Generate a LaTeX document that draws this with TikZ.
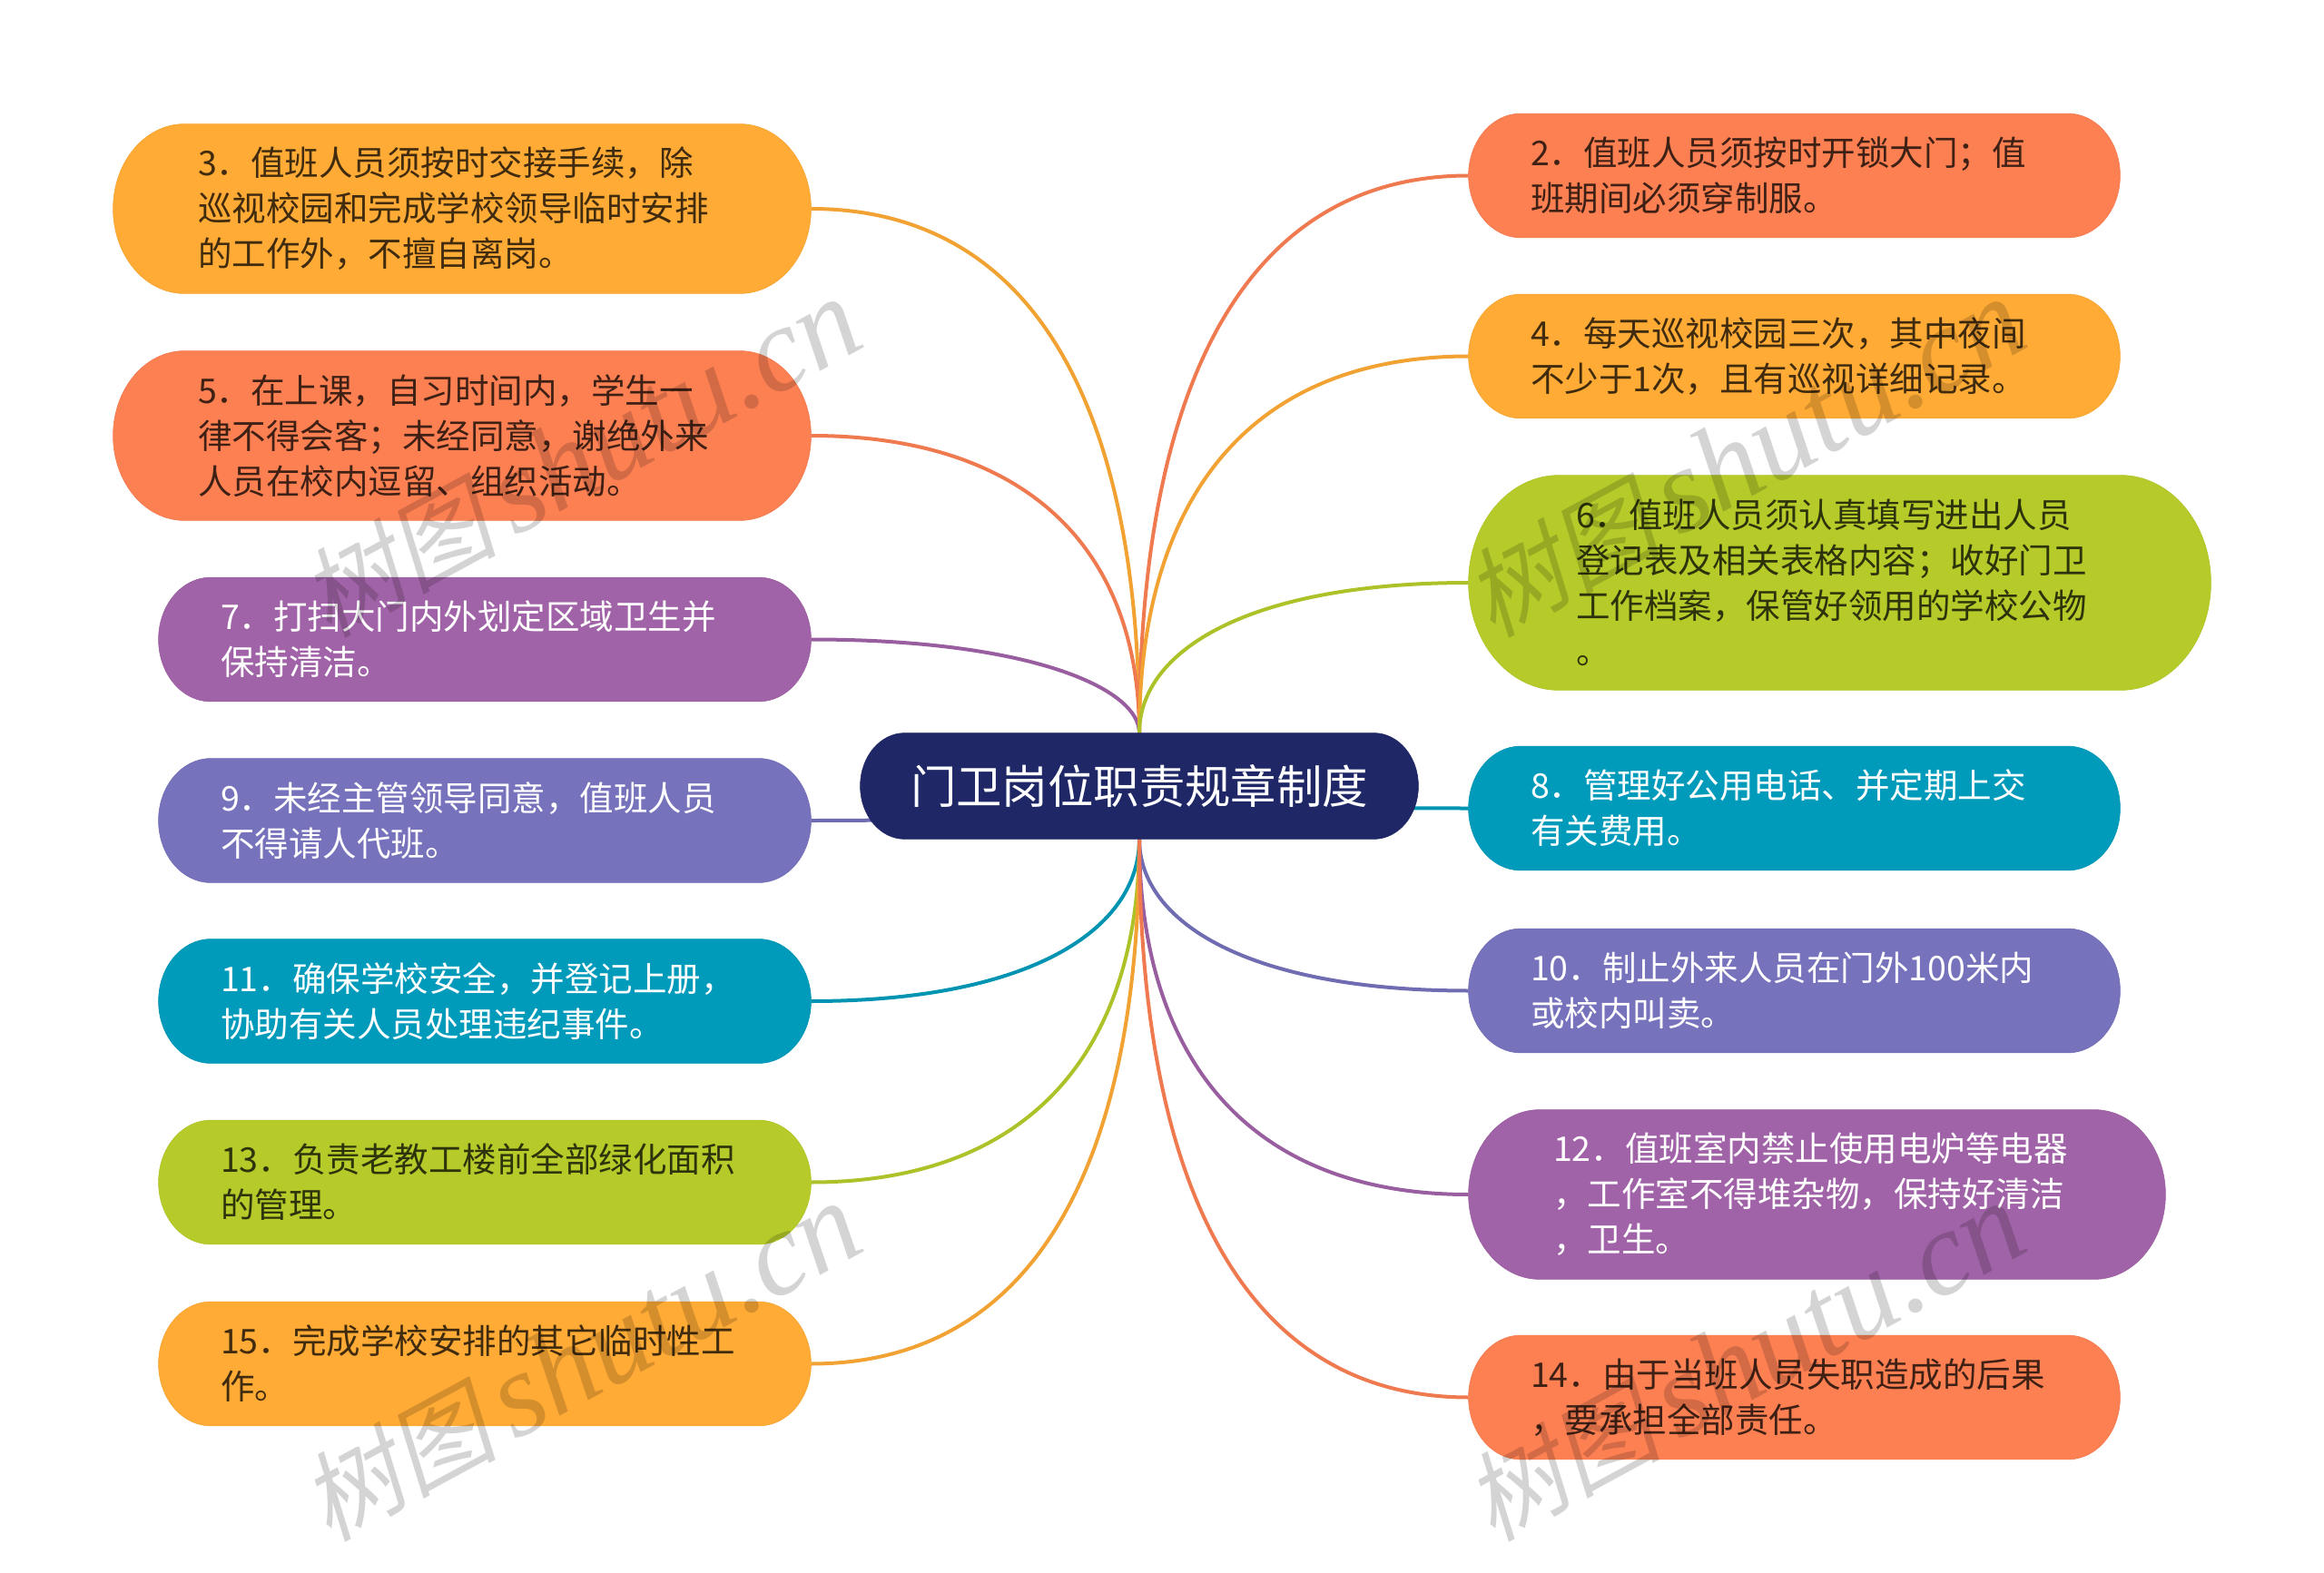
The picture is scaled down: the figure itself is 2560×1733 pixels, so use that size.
\documentclass[tikz,border=0pt]{standalone}
\usepackage{fontspec}
\setmainfont{Noto Sans CJK SC}
\newfontfamily\wmlatin{Liberation Serif}
\newfontfamily\wmcjk[FakeSlant=0.2]{Noto Sans CJK SC}
\usetikzlibrary{calc}
\definecolor{orangeC}{HTML}{FFAB36}
\definecolor{coralC}{HTML}{FD8053}
\definecolor{purpleC}{HTML}{A163A7}
\definecolor{indigoC}{HTML}{7672BB}
\definecolor{tealC}{HTML}{009BBB}
\definecolor{oliveC}{HTML}{B6CB2A}
\definecolor{navyC}{HTML}{1F2767}
\pgfdeclarelayer{linklayer}
\pgfdeclarelayer{pilllayer}
\pgfsetlayers{linklayer,pilllayer,main}
\tikzset{
  leaf/.style n args={2}{
    inner sep=0pt,
    align=left,
    font=\fontsize{18.75}{25}\selectfont,
    minimum width=#1*0.5pt,
    minimum height=#2*0.5pt,
    text width={(#1-#2)*0.5pt},
  },
  link/.style={line width=2pt},
  wmark/.style={rotate=28.5,text=black,text opacity=0.17},
}
\newcommand{\pill}[2]{%
  \begin{pgfonlayer}{pilllayer}
    \filldraw[fill=#2,draw=#2!96!black,line width=0.3pt] let \p1=(#1.north),\p2=(#1.south),\n1={(\y1-\y2)/2},\n2={(\y1-\y2)*0.42} in
      (#1.west) arc[start angle=180,end angle=90,x radius=\n2,y radius=\n1]
      -- ($(#1.north east)+(-\n2,0pt)$) arc[start angle=90,end angle=-90,x radius=\n2,y radius=\n1]
      -- ($(#1.south west)+(\n2,0pt)$) arc[start angle=-90,end angle=-180,x radius=\n2,y radius=\n1] -- cycle;
  \end{pgfonlayer}
}
\begin{document}
\begin{tikzpicture}[x=0.5pt,y=-0.5pt]
    \useasboundingbox (0,0) rectangle (2560,1733);
    % centre
    \node[inner sep=0pt,minimum width=307pt,minimum height=58pt,text=white,font=\fontsize{25.2}{30}\selectfont] (root) at (1255,866) {门卫岗位职责规章制度};
    % left column
    \node[leaf={768}{186},text=orangeC!25!black] (b3) at (509,230) {3．值班人员须按时交接手续，除\\巡视校园和完成学校领导临时安排\\的工作外，不擅自离岗。};
    \node[leaf={768}{186},text=coralC!25!black] (b5) at (509,480) {5．在上课，自习时间内，学生一\\律不得会客；未经同意，谢绝外来\\人员在校内逗留、组织活动。};
    \node[leaf={718}{136},text=white] (b7) at (534,704.5) {7．打扫大门内外划定区域卫生并\\保持清洁。};
    \node[leaf={718}{136},text=white] (b9) at (534,904) {9．未经主管领导同意，值班人员\\不得请人代班。};
    \node[leaf={718}{136},text=white] (b11) at (534,1103) {11．确保学校安全，并登记上册，\\协助有关人员处理违纪事件。};
    \node[leaf={718}{136},text=oliveC!25!black] (b13) at (534,1302.5) {13．负责老教工楼前全部绿化面积\\的管理。};
    \node[leaf={718}{136},text=orangeC!25!black] (b15) at (534,1502.5) {15．完成学校安排的其它临时性工\\作。};
    % right column
    \node[leaf={717}{136},text=coralC!25!black] (b2) at (1976.5,193.5) {2．值班人员须按时开锁大门；值\\班期间必须穿制服。};
    \node[leaf={717}{136},text=orangeC!25!black] (b4) at (1976.5,392.5) {4．每天巡视校园三次，其中夜间\\不少于1次，且有巡视详细记录。};
    \node[leaf={817}{236},text=oliveC!25!black] (b6) at (2026.5,642) {6．值班人员须认真填写进出人员\\登记表及相关表格内容；收好门卫\\工作档案，保管好领用的学校公物\\。};
    \node[leaf={717}{136},text=white] (b8) at (1976.5,890.5) {8．管理好公用电话、并定期上交\\有关费用。};
    \node[leaf={717}{136},text=white] (b10) at (1976.5,1091.5) {10．制止外来人员在门外100米内\\或校内叫卖。};
    \node[leaf={767}{186},text=white] (b12) at (2001.5,1316) {12．值班室内禁止使用电炉等电器\\，工作室不得堆杂物，保持好清洁\\，卫生。};
    \node[leaf={717}{136},text=coralC!25!black] (b14) at (1976.5,1539.5) {14．由于当班人员失职造成的后果\\，要承担全部责任。};
    % pills behind the texts
    \foreach \b/\c in {root/navyC,b3/orangeC,b5/coralC,b7/purpleC,b9/indigoC,b11/tealC,b13/oliveC,b15/orangeC,b2/coralC,b4/orangeC,b6/oliveC,b8/tealC,b10/indigoC,b12/purpleC,b14/coralC}{
      \pill{\b}{\c}
    }
    % links
    \begin{pgfonlayer}{linklayer}
      \foreach \b/\c in {b3/orangeC,b5/coralC,b7/purpleC,b9/indigoC,b11/tealC,b13/oliveC,b15/orangeC}{
        \draw[link,\c!95!black] (\b.east) .. controls ($(\b.east)!0.667!(\b.east -| root)$) and ($(root)!0.667!(\b.east -| root)$) .. (root);
      }
      \foreach \b/\c in {b2/coralC,b4/orangeC,b6/oliveC,b8/tealC,b10/indigoC,b12/purpleC,b14/coralC}{
        \draw[link,\c!95!black] (\b.west) .. controls ($(\b.west)!0.667!(\b.west -| root)$) and ($(root)!0.667!(\b.west -| root)$) .. (root);
      }
    \end{pgfonlayer}
    % watermark
    \foreach \n/\x/\y in {wm1/640/505,wm2/640/1501,wm3/1922/505,wm4/1922/1501}{
      \node[wmark] (\n) at (\x,\y) {{\wmcjk\fontsize{54}{60}\selectfont 树图}\hspace{9pt}{\wmlatin\itshape\fontsize{66}{60}\selectfont shutu.cn}};
    }
\end{tikzpicture}
\end{document}
